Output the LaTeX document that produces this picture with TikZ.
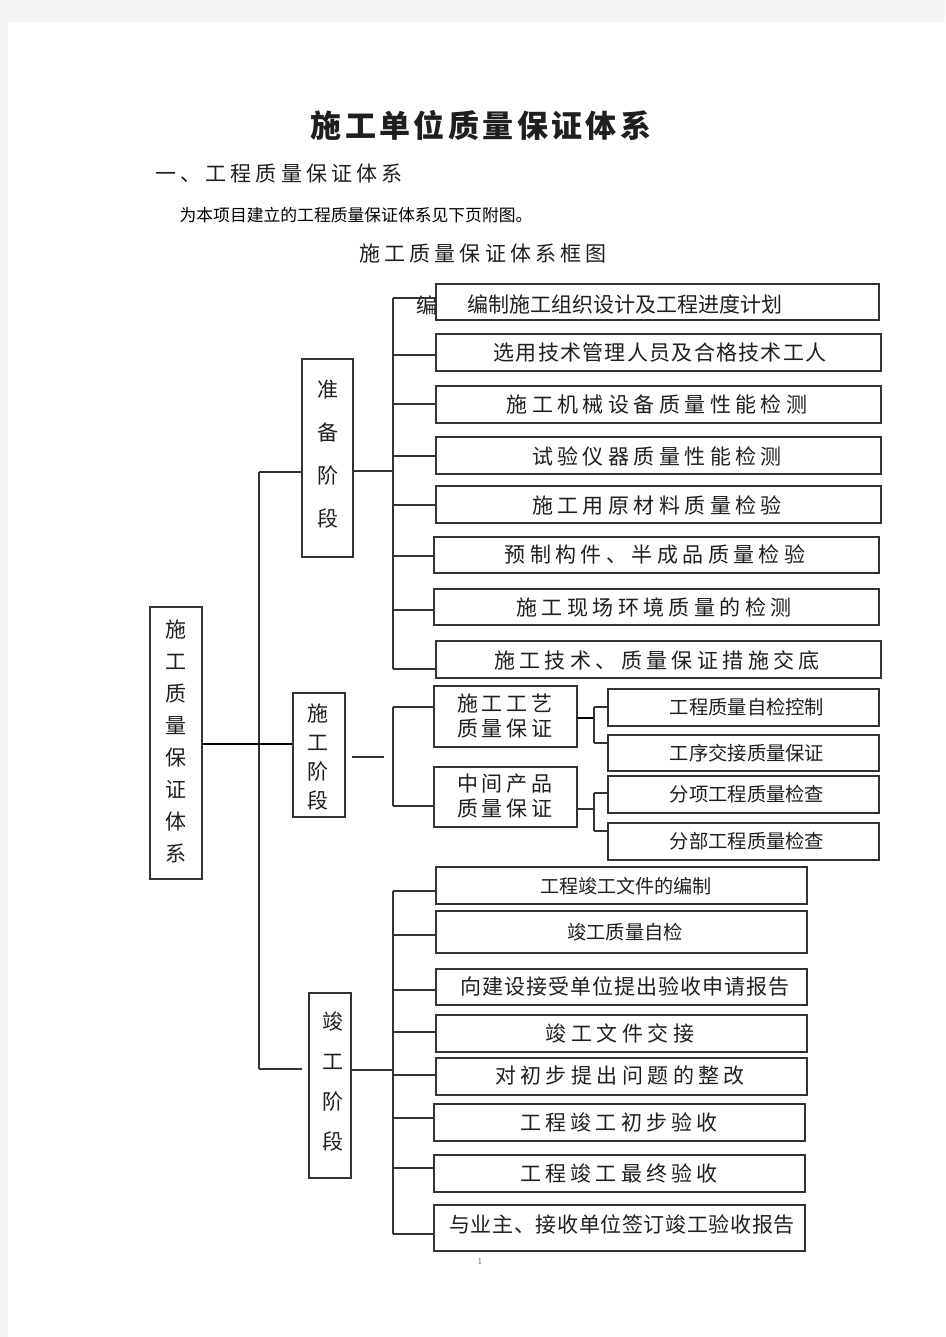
\documentclass[tikz,border=0pt]{standalone}
\usepackage{fontspec}
\newfontfamily\cjk{Noto Sans CJK SC}
\newcommand\bx[5]{\node[box,minimum width={#4pt-#2pt},minimum height={#5pt-#3pt}] (#1) at ({(#2+#4)/2},{(#3+#5)/2}) {};}
\newcommand\tx[6]{\node[lbl,font={\cjk\fontsize{#4}{#4}\selectfont\addfontfeature{LetterSpace=#5}}] (#1) at (#2,#3) {#6};}
\newcommand\vtx[6]{\node[lbl,align=center,font={\cjk\fontsize{#4}{#5}\selectfont}] (#1) at (#2,#3) {#6};}
\begin{document}
\begin{tikzpicture}[x=1pt,y=-1pt,
  box/.style={draw=black!80,line width=1.3pt,inner sep=0pt,fill=white},
  ln/.style={draw=black!80,line width=1.1pt},
  thk/.style={draw=black,line width=2pt},
  lbl/.style={inner sep=0pt,text=black!88}]
\useasboundingbox (0,0) rectangle (945,1337);
\fill[black!4] (0,0) rectangle (945,1337);
\fill[white] (8,22) rectangle (945,1337);

% headings
\node[lbl,font={\cjk\bfseries\fontsize{31}{31}\selectfont\addfontfeature{LetterSpace=11}}] (title) at (481,125) {施工单位质量保证体系};
\tx{head}{279}{174}{21}{20}{一、工程质量保证体系}
\node[lbl,text=black,font={\cjk\fontsize{16.8}{16.8}\selectfont}] (intro) at (356,215) {为本项目建立的工程质量保证体系见下页附图。};
\tx{cap}{483}{253}{21}{20}{施工质量保证体系框图}

% stage boxes
\bx{root}{150}{607}{202}{879}
\bx{s1}{302}{359}{353}{557}
\bx{s2}{293}{693}{345}{817}
\bx{s3}{309}{993}{351}{1178}
\vtx{roott}{176}{741.5}{21}{32}{施\\工\\质\\量\\保\\证\\体\\系}
\vtx{s1t}{328}{454.5}{21}{43}{准\\备\\阶\\段}
\vtx{s2t}{318}{757}{21}{29}{施\\工\\阶\\段}
\vtx{s3t}{333}{1081.5}{21}{40}{竣\\工\\阶\\段}

% preparation items
\bx{p1}{436}{284}{879}{320}
\bx{p2}{436}{334}{881}{371}
\bx{p3}{436}{386}{881}{423}
\bx{p4}{436}{437}{881}{474}
\bx{p5}{436}{486}{881}{523}
\bx{p6}{434}{537}{879}{573}
\bx{p7}{434}{589}{879}{625}
\bx{p8}{436}{641}{881}{678}
\tx{p1t}{625}{304}{21}{0}{编制施工组织设计及工程进度计划}
\tx{p2t}{660}{353}{21}{6}{选用技术管理人员及合格技术工人}
\tx{p3t}{657}{404}{21}{21}{施工机械设备质量性能检测}
\tx{p4t}{657}{456}{21}{21}{试验仪器质量性能检测}
\tx{p5t}{657}{505}{21}{21}{施工用原材料质量检验}
\tx{p6t}{655}{555}{21}{21}{预制构件、半成品质量检验}
\tx{p7t}{654}{607}{21}{21}{施工现场环境质量的检测}
\tx{p8t}{657}{660}{21}{21}{施工技术、质量保证措施交底}
\tx{stray}{427}{305}{21}{0}{编}

% construction items
\bx{m1}{434}{686}{577}{747}
\bx{m2}{434}{767}{577}{827}
\vtx{m1t}{505}{716.5}{21}{25}{\addfontfeature{LetterSpace=19}施工工艺\\\addfontfeature{LetterSpace=19}质量保证}
\vtx{m2t}{505}{796.5}{21}{25}{\addfontfeature{LetterSpace=19}中间产品\\\addfontfeature{LetterSpace=19}质量保证}
\bx{q1}{608}{689}{879}{726}
\bx{q2}{608}{735}{879}{771}
\bx{q3}{608}{776}{879}{813}
\bx{q4}{608}{823}{879}{860}
\tx{q1t}{747}{707.5}{19.3}{0}{工程质量自检控制}
\tx{q2t}{747}{753}{19.3}{0}{工序交接质量保证}
\tx{q3t}{747}{794.5}{19.3}{0}{分项工程质量检查}
\tx{q4t}{747}{841.5}{19.3}{0}{分部工程质量检查}

% completion items
\bx{c1}{436}{867}{807}{904}
\bx{c2}{436}{911}{807}{953}
\bx{c3}{436}{969}{807}{1005}
\bx{c4}{436}{1015}{807}{1052}
\bx{c5}{436}{1058}{807}{1095}
\bx{c6}{434}{1104}{805}{1141}
\bx{c7}{434}{1155}{805}{1192}
\bx{c8}{434}{1205}{805}{1251}
\tx{c1t}{626}{886}{19.1}{0}{工程竣工文件的编制}
\tx{c2t}{625}{932}{19.3}{0}{竣工质量自检}
\tx{c3t}{625}{987}{21}{5}{向建设接受单位提出验收申请报告}
\tx{c4t}{620}{1033}{21}{21}{竣工文件交接}
\tx{c5t}{620}{1076}{21}{21}{对初步提出问题的整改}
\tx{c6t}{619}{1122}{21}{20}{工程竣工初步验收}
\tx{c7t}{619}{1173}{21}{20}{工程竣工最终验收}
\tx{c8t}{622}{1225}{21}{3}{与业主、接收单位签订竣工验收报告}

\node[inner sep=0pt,text=blue!45!gray,font=\fontsize{9}{9}\selectfont] (pg) at (480,1261) {1};

% trunk
\coordinate (tT) at (259,472);
\coordinate (tB) at (259,1069);
\coordinate (s3in) at (302,1069);
\draw[ln] (tT) -- (tB);
\draw[ln] (tT) -- (s1.west |- tT);
\draw[ln] (tB) -- (s3in);
\draw[thk] (root.east |- 0,744) -- (s2.west |- 0,744);

% preparation bracket
\coordinate (pbT) at (393,298);
\coordinate (pbB) at (393,669);
\coordinate (pbM) at (393,471);
\draw[ln] (pbT) -- (pbB);
\draw[ln] (s1.east |- pbM) -- (pbM);
\foreach \n/\y in {p1/298,p2/355,p3/404,p4/456,p5/505,p6/556,p8/669}
  \draw[ln] (pbT |- 0,\y) -- (\n.west |- 0,\y);
\draw[ln,line width=1.7pt] (pbT |- 0,610) -- (p7.west |- 0,610);

% construction bracket
\coordinate (f1) at (352,757);
\coordinate (f2) at (384,757);
\draw[ln] (f1) -- (f2);
\coordinate (cbT) at (393,707);
\coordinate (cbB) at (393,806);
\draw[ln] (cbT) -- (cbB);
\draw[ln] (cbT) -- (m1.west |- cbT);
\draw[ln] (cbB) -- (m2.west |- cbB);
\coordinate (k1) at (594,718);
\coordinate (k1T) at (594,707);
\coordinate (k1B) at (594,743);
\draw[thk] (m1.east |- k1) -- (k1);
\draw[ln] (k1T) -- (k1B);
\draw[ln] (k1T) -- (q1.west |- k1T);
\draw[ln] (k1B) -- (q2.west |- k1B);
\coordinate (k2) at (594,809);
\coordinate (k2T) at (594,793);
\coordinate (k2B) at (594,831);
\draw[ln] (m2.east |- k2) -- (k2);
\draw[ln] (k2T) -- (k2B);
\draw[ln] (k2T) -- (q3.west |- k2T);
\draw[ln] (k2B) -- (q4.west |- k2B);

% completion bracket
\coordinate (ebT) at (393,891);
\coordinate (ebB) at (393,1234);
\coordinate (ebM) at (393,1070);
\draw[ln] (ebT) -- (ebB);
\draw[ln] (s3.east |- ebM) -- (ebM);
\foreach \n/\y in {c1/891,c2/935,c3/990,c6/1118,c7/1168,c8/1234}
  \draw[ln] (ebT |- 0,\y) -- (\n.west |- 0,\y);
\draw[ln,line width=1.8pt] (ebT |- 0,1032) -- (c4.west |- 0,1032);
\draw[ln,line width=1.8pt] (ebT |- 0,1075) -- (c5.west |- 0,1075);
\end{tikzpicture}
\end{document}
